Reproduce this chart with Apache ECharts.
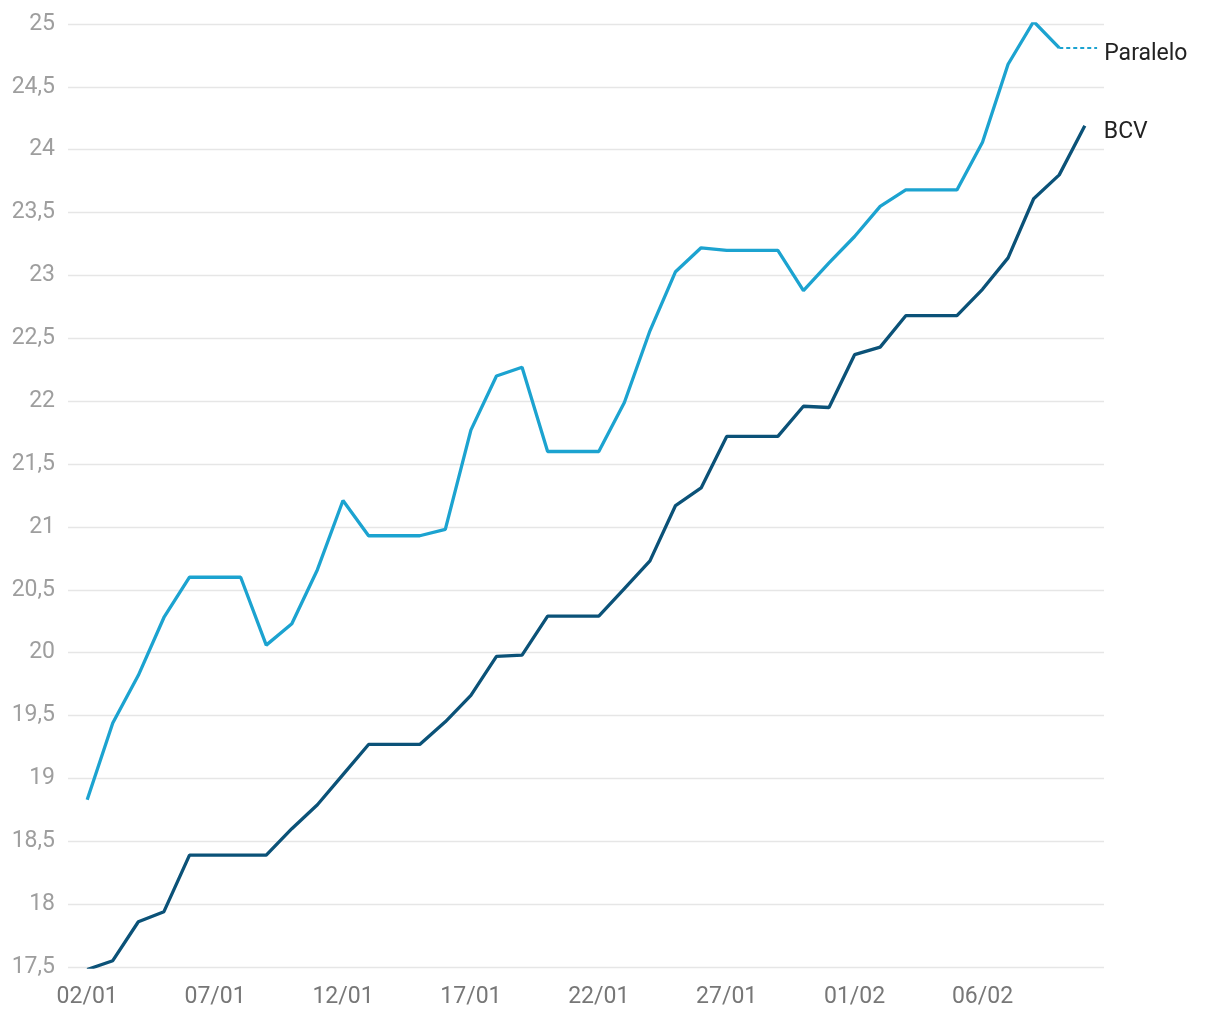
<!DOCTYPE html>
<html>
<head>
<meta charset="utf-8">
<script src="https://cdn.jsdelivr.net/npm/echarts@6/dist/echarts.min.js"></script>
<style>
html,body{margin:0;padding:0;background:#fff;}
#chart{width:1220px;height:1020px;}
</style>
</head>
<body>
<div id="chart"></div>
<script>
const dates = ['02/01','03/01','04/01','05/01','06/01','07/01','08/01','09/01','10/01','11/01',
  '12/01','13/01','14/01','15/01','16/01','17/01','18/01','19/01','20/01','21/01',
  '22/01','23/01','24/01','25/01','26/01','27/01','28/01','29/01','30/01','31/01',
  '01/02','02/02','03/02','04/02','05/02','06/02','07/02','08/02','09/02','10/02'];
const tickIndices = [0,5,10,15,20,25,30,35];
const paralelo = [18.83,19.44,19.82,20.28,20.60,20.60,20.60,20.06,20.23,20.66,
  21.21,20.93,20.93,20.93,20.98,21.77,22.20,22.27,21.60,21.60,
  21.60,21.99,22.56,23.03,23.22,23.20,23.20,23.20,22.88,23.10,
  23.31,23.55,23.68,23.68,23.68,24.06,24.68,25.02,24.81];
const bcv = [17.48,17.55,17.86,17.94,18.39,18.39,18.39,18.39,18.60,18.79,
  19.03,19.27,19.27,19.27,19.45,19.66,19.97,19.98,20.29,20.29,
  20.29,20.51,20.73,21.17,21.31,21.72,21.72,21.72,21.96,21.95,
  22.37,22.43,22.68,22.68,22.68,22.89,23.14,23.61,23.80,24.19];
const seriesNames = ['Paralelo','BCV'];

const toPairs = arr => arr.map((v,i)=>[i,v]);
const pLastI = paralelo.length - 1;
const pLast = paralelo[pLastI];

const chart = echarts.init(document.getElementById('chart'), null, {renderer:'canvas'});
chart.setOption({
  animation:false,
  backgroundColor:'#ffffff',
  textStyle:{fontFamily:'Roboto'},
  grid:{left:68,right:116,top:24,bottom:53,containLabel:false},
  xAxis:{
    type:'value',
    min:-0.75,
    max:39.75,
    axisLine:{show:false},
    axisTick:{show:false},
    splitLine:{show:false},
    axisLabel:{
      customValues:tickIndices,
      formatter:v=>dates[Math.round(v)],
      color:'#777777',
      fontSize:23,
      fontFamily:'Roboto',
      margin:19
    }
  },
  yAxis:{
    type:'value',
    min:17.5,
    max:25,
    interval:0.5,
    axisLine:{show:false},
    axisTick:{show:false},
    splitLine:{lineStyle:{color:'#e6e6e6',width:1.3}},
    axisLabel:{
      formatter:v=>String(v).replace('.',','),
      color:'#9e9e9e',
      fontSize:23,
      fontFamily:'Roboto',
      margin:13
    }
  },
  series:[
    {
      name:seriesNames[0],
      type:'line',
      data:toPairs(paralelo),
      showSymbol:false,
      silent:true,
      lineStyle:{color:'#1ca3d0',width:3.3},
      itemStyle:{color:'#1ca3d0'},
      endLabel:{show:true,formatter:'{a}',color:'#222222',fontSize:23,fontFamily:'Roboto',distance:45,offset:[0,6]},
      markLine:{
        silent:true,
        symbol:['none','none'],
        label:{show:false},
        lineStyle:{color:'#1ca3d0',type:[4,3],width:2},
        data:[[{coord:[pLastI,pLast]},{coord:[pLastI+1.48,pLast]}]]
      }
    },
    {
      name:seriesNames[1],
      type:'line',
      data:toPairs(bcv),
      showSymbol:false,
      silent:true,
      lineStyle:{color:'#0b5278',width:3.3},
      itemStyle:{color:'#0b5278'},
      endLabel:{show:true,formatter:'{a}',color:'#222222',fontSize:23,fontFamily:'Roboto',distance:19,offset:[0,6]}
    }
  ]
});
</script>
</body>
</html>
